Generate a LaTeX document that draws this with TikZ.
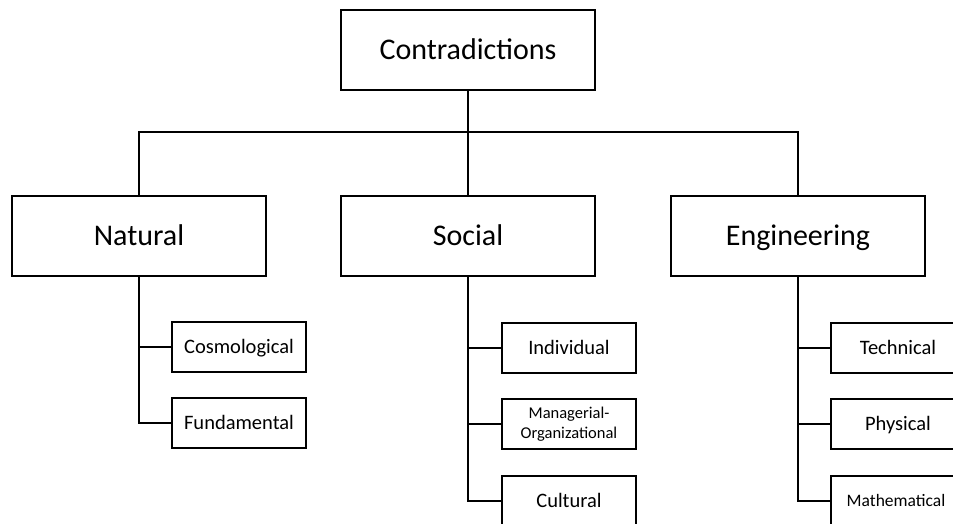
\documentclass[tikz,border=0pt]{standalone}
\usepackage{fontspec}
\setmainfont{Carlito}
\begin{document}
\begin{tikzpicture}[x=1pt,y=-1pt,
  every node/.style={inner sep=0pt, outer sep=0pt},
  bigbox/.style={draw, line width=1.8pt, minimum width=254pt, minimum height=80pt,
    font=\fontsize{30}{36}\selectfont, text height=19.3pt, text depth=0pt},
  leafbox/.style={draw, line width=1.8pt, minimum width=134pt, minimum height=50pt,
    font=\fontsize{20.5}{24}\selectfont, text height=13.2pt, text depth=0pt},
  link/.style={line width=1.8pt}]
\useasboundingbox (0,0) rectangle (953,524);
\clip (0,0) rectangle (953,524);

% root and first level
\node[bigbox] (root) at (468,50) {Contradictions};
\node[bigbox] (nat) at (139,236) {Natural};
\node[bigbox] (soc) at (468,236) {Social};
\node[bigbox] (eng) at (798,236) {Engineering};

% second level
\node[leafbox] (cos) at (239,347) {Cosmological};
\node[leafbox] (fun) at (239,423) {Fundamental};
\node[leafbox] (ind) at (569,348) {Individual};
\node[leafbox, align=center, text height=, text depth=,
  font=\fontsize{16.5}{20}\selectfont] (man) at (569,424) {Managerial-\\Organizational};
\node[leafbox] (cul) at (569,501) {Cultural};
\node[leafbox] (tec) at (898,348) {Technical};
\node[leafbox] (phy) at (898,424) {Physical};
\node[leafbox, font=\fontsize{17.5}{21}\selectfont, text height=11.3pt] (mat) at (898,501) {\hspace*{-4pt}Mathematical};

% bus from the root to the three categories
\coordinate (bus) at (468,132);
\draw[link] (root.south) -- (bus);
\draw[link] (nat.north) |- (bus) -| (eng.north);
\draw[link] (soc.north) -- (soc.north |- bus);

% natural branch
\draw[link] (nat.south) |- (fun.west);
\draw[link] (cos.west) -- (cos.west -| nat.south);

% social branch
\draw[link] (soc.south) |- (cul.west);
\draw[link] (ind.west) -- (ind.west -| soc.south);
\draw[link] (man.west) -- (man.west -| soc.south);

% engineering branch
\draw[link] (eng.south) |- (mat.west);
\draw[link] (tec.west) -- (tec.west -| eng.south);
\draw[link] (phy.west) -- (phy.west -| eng.south);
\end{tikzpicture}
\end{document}
